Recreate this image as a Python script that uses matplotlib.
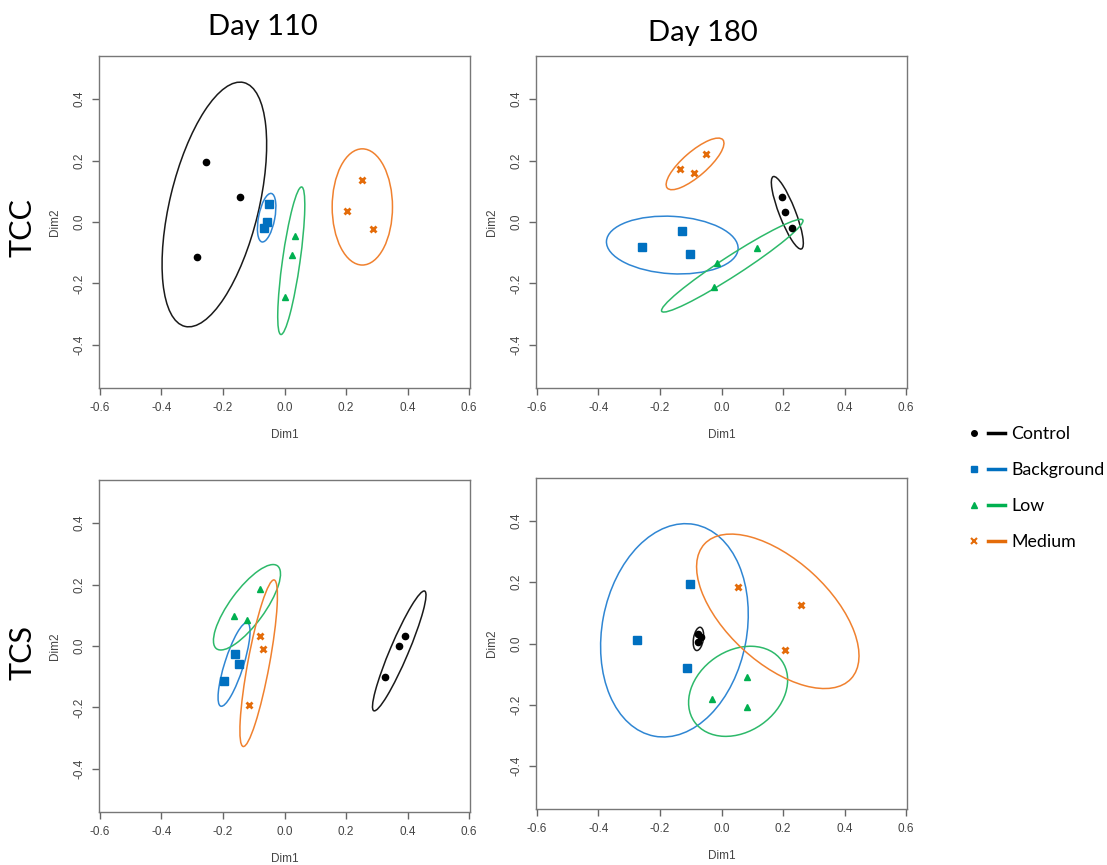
import numpy as np
import matplotlib.pyplot as plt
from matplotlib.patches import Ellipse
from matplotlib.lines import Line2D
from matplotlib.legend_handler import HandlerTuple

groups = ['Control', 'Background', 'Low', 'Medium']
pt_colors = ['#000000', '#0070C0', '#00B050', '#E46C0A']
ell_colors = ['#1a1a1a', '#2F86D3', '#2DB96A', '#F0812F']
markers = ['o', 's', '^', 'x']
msizes = [4.5, 5.5, 5, 5]

# points per panel, one list per group (Control, Background, Low, Medium)
tcc110_x = [[-0.255, -0.145, -0.286], [-0.052, -0.056, -0.066], [0.035, 0.024, 0.003], [0.253, 0.204, 0.287]]
tcc110_y = [[0.196, 0.081, -0.114], [0.059, 0.000, -0.020], [-0.047, -0.106, -0.245], [0.138, 0.037, -0.023]]
tcc180_x = [[0.197, 0.207, 0.230], [-0.258, -0.128, -0.101], [-0.014, -0.025, 0.116], [-0.136, -0.089, -0.050]]
tcc180_y = [[0.081, 0.034, -0.021], [-0.081, -0.030, -0.105], [-0.134, -0.212, -0.085], [0.171, 0.159, 0.221]]
tcs110_x = [[0.328, 0.372, 0.393], [-0.160, -0.149, -0.198], [-0.163, -0.122, -0.080], [-0.079, -0.069, -0.114]]
tcs110_y = [[-0.102, 0.000, 0.034], [-0.025, -0.057, -0.113], [0.098, 0.085, 0.187], [0.034, -0.011, -0.191]]
tcs180_x = [[-0.078, -0.068, -0.077], [-0.102, -0.276, -0.113], [0.082, -0.030, 0.082], [0.055, 0.260, 0.205]]
tcs180_y = [[0.032, 0.020, 0.006], [0.195, 0.012, -0.081], [-0.110, -0.180, -0.206], [0.184, 0.125, -0.021]]

# confidence ellipses: centre x, centre y, half-extent x, half-extent y, correlation
tcc110_ell = [(-0.228, 0.057, 0.170, 0.398, 0.49), (-0.058, 0.014, 0.030, 0.079, 0.45),
              (0.022, -0.126, 0.044, 0.240, 0.756), (0.253, 0.049, 0.098, 0.189, 0.0)]
tcc180_ell = [(0.214, 0.030, 0.052, 0.118, -0.84), (-0.160, -0.075, 0.214, 0.094, -0.11),
              (0.035, -0.142, 0.230, 0.151, 0.967), (-0.086, 0.189, 0.094, 0.084, 0.80)]
tcs110_ell = [(0.373, -0.016, 0.087, 0.195, 0.93), (-0.164, -0.060, 0.052, 0.136, 0.79),
              (-0.122, 0.126, 0.109, 0.139, 0.78), (-0.084, -0.056, 0.061, 0.271, 0.81)]
tcs180_ell = [(-0.075, 0.015, 0.017, 0.038, 0.3), (-0.153, 0.043, 0.240, 0.348, 0.15),
              (0.054, -0.156, 0.161, 0.147, 0.25), (0.183, 0.105, 0.264, 0.252, -0.576)]

tick_font = 'Liberation Sans'
head_font = 'Lato'

W, H = 1107, 865
fig = plt.figure(figsize=(W / 100, H / 100), dpi=100)


def make_ax(left, top, right, bottom):
    return fig.add_axes([left / W, 1 - bottom / H, (right - left) / W, (bottom - top) / H])


def draw_ellipse(ax, e, color):
    cx, cy, sx, sy, r = e
    S = np.array([[sx ** 2, r * sx * sy], [r * sx * sy, sy ** 2]])
    vals, vecs = np.linalg.eigh(S)
    ang = np.degrees(np.arctan2(vecs[1, 1], vecs[0, 1]))
    ax.add_patch(Ellipse((cx, cy), 2 * np.sqrt(vals[1]), 2 * np.sqrt(max(vals[0], 1e-8)),
                         angle=ang, fill=False, edgecolor=color, lw=1.1))


def panel(ax, xs, ys, ells):
    for i in range(4):
        draw_ellipse(ax, ells[i], ell_colors[i])
        if markers[i] == 'x':
            ax.plot(xs[i], ys[i], ls='none', marker='x', ms=msizes[i], mew=2, color=pt_colors[i])
        else:
            ax.plot(xs[i], ys[i], ls='none', marker=markers[i], ms=msizes[i], color=pt_colors[i], mec=pt_colors[i])
    ax.set_xlim(-0.603, 0.603)
    ax.set_ylim(-0.54, 0.54)
    xt = [-0.6, -0.4, -0.2, 0.0, 0.2, 0.4, 0.6]
    ax.set_xticks(xt)
    ax.set_xticklabels(['%.1f' % v for v in xt], family=tick_font)
    yt = [-0.4, -0.2, 0.0, 0.2, 0.4]
    ax.set_yticks(yt)
    ax.set_yticklabels(['%.1f' % v for v in yt], rotation=90, va='center', family=tick_font)
    ax.tick_params(direction='out', length=5, width=1, color='#666666', labelcolor='#444444',
                   labelsize=8.5, pad=5)
    for s in ax.spines.values():
        s.set_color('#777777')
        s.set_linewidth(1)
    ax.set_xlabel('Dim1', family=tick_font, fontsize=8.5, color='#444444', labelpad=11)
    ax.set_ylabel('Dim2', family=tick_font, fontsize=8.5, color='#444444', labelpad=9)


ax1 = make_ax(99, 56, 470, 388)
ax2 = make_ax(536, 56, 907, 388)
ax3 = make_ax(99, 480, 470, 812)
ax4 = make_ax(536, 478, 907, 809)
panel(ax1, tcc110_x, tcc110_y, tcc110_ell)
panel(ax2, tcc180_x, tcc180_y, tcc180_ell)
panel(ax3, tcs110_x, tcs110_y, tcs110_ell)
panel(ax4, tcs180_x, tcs180_y, tcs180_ell)

fig.text(263 / W, 1 - 27 / H, 'Day 110', ha='center', va='center', fontsize=21, family=head_font)
fig.text(703 / W, 1 - 33 / H, 'Day 180', ha='center', va='center', fontsize=21, family=head_font)
fig.text(23 / W, 1 - 228 / H, 'TCC', ha='center', va='center', rotation=90, fontsize=22, family=head_font)
fig.text(23 / W, 1 - 653 / H, 'TCS', ha='center', va='center', rotation=90, fontsize=22, family=head_font)

handles = []
for i in range(4):
    mk = Line2D([], [], ls='none', marker=markers[i], ms=4, mew=1.5 if markers[i] == 'x' else 1,
                color=pt_colors[i])
    ln = Line2D([], [], color=pt_colors[i], lw=2.5)
    handles.append((mk, ln))
fig.legend(handles, groups, handler_map={tuple: HandlerTuple(ndivide=None, pad=0.3)},
           loc='center left', bbox_to_anchor=(950 / W, 1 - 488 / H), frameon=False,
           prop={'family': head_font, 'size': 12.8}, handlelength=2.2, handletextpad=0.35,
           labelspacing=1.12)

fig.savefig('out.png', dpi=100)
